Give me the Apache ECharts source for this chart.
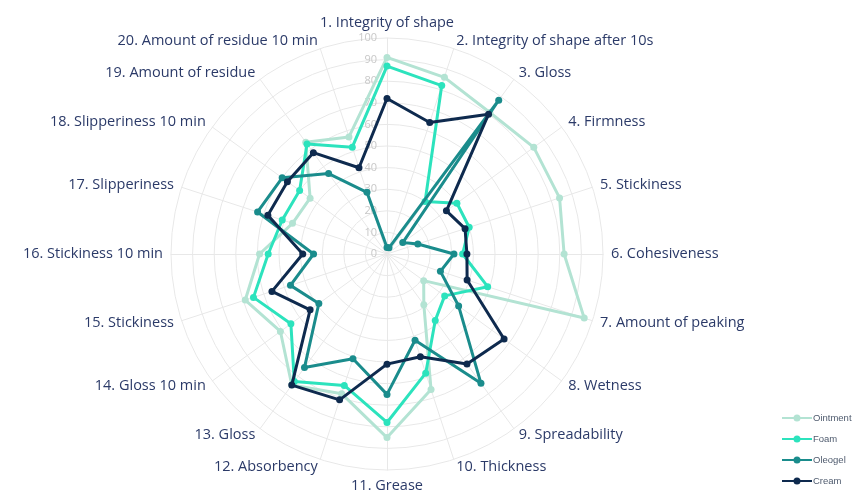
<!DOCTYPE html>
<html lang="en">
<head>
    <meta charset="UTF-8">
    <title>Texture profile radar</title>
    <script src="https://cdn.jsdelivr.net/npm/echarts@6/dist/echarts.min.js"></script>
    <style>
        html, body { margin: 0; padding: 0; background: #fff; }
        #chart_main { width: 856px; height: 504px; }
    </style>
</head>
<body>
<div id="chart_main"></div>
<script>
  // attributes (clockwise from top)
  var attributes = [
    '1. Integrity of shape', '2. Integrity of shape after 10s', '3. Gloss', '4. Firmness',
    '5. Stickiness', '6. Cohesiveness', '7. Amount of peaking', '8. Wetness',
    '9. Spreadability', '10. Thickness', '11. Grease', '12. Absorbency',
    '13. Gloss', '14. Gloss 10 min', '15. Stickiness', '16. Stickiness 10 min',
    '17. Slipperiness', '18. Slipperiness 10 min', '19. Amount of residue', '20. Amount of residue 10 min'
  ];
  var seriesNames = ['Ointment', 'Foam', 'Oleogel', 'Cream'];
  var ointment = [91, 86, 81, 84, 84, 82, 96, 21, 29, 66, 85, 68, 75, 61, 69, 59, 46, 44, 64, 57];
  var foam     = [87, 82, 30, 40, 40, 35, 49, 33, 38, 58, 78, 64, 73, 55, 65, 55, 51, 50, 63, 52];
  var oleogel  = [3, 3, 88, 9, 15, 31, 26, 41, 74, 42, 65, 51, 65, 39, 47, 34, 63, 60, 46, 30];
  var cream    = [72, 64, 80, 34, 38, 37, 39, 67, 63, 50, 51, 71, 75, 44, 56, 39, 58, 57, 58, 42];
  var colors = ['#b3e3d3', '#2ce3bd', '#1a8c8c', '#0e2a4e'];

  // echarts radar runs counter-clockwise, so keep item 1 on top and reverse the rest
  function clockwise(arr) {
    return [arr[0]].concat(arr.slice(1).reverse());
  }

  var myChart = echarts.init(document.getElementById('chart_main'));

  // only the first axis carries the 0..100 tick labels
  var indicators = clockwise(attributes).map(function(name, i) {
    var ind = {name: name, min: 0, max: 100};
    if (i === 0) {
      ind.axisLabel = {show: true, color: '#c8c8c8', fontSize: 11, margin: 10, align: 'right', fontFamily: 'Open Sans'};
    }
    return ind;
  });

  var allValues = [ointment, foam, oleogel, cream];
  var series = allValues.map(function(vals, i) {
    return {
      type: 'radar',
      name: seriesNames[i],
      symbol: 'circle',
      symbolSize: 7,
      lineStyle: {color: colors[i], width: 3},
      itemStyle: {color: colors[i]},
      z: 2 + i,
      data: [{name: seriesNames[i], value: clockwise(vals)}]
    };
  });

  var option = {
    animation: false,
    color: colors,
    legend: {
      orient: 'vertical',
      left: 777,
      top: 408,
      itemWidth: 30,
      itemHeight: 8,
      itemGap: 11,
      icon: 'path://M0,3 L30,3 L30,5 L0,5 Z M15,0.5 A3.5,3.5 0 1 1 15,7.5 A3.5,3.5 0 1 1 15,0.5 Z',
      textStyle: {color: '#4f5b6e', fontSize: 9.5, fontFamily: 'Liberation Sans', padding: [0, 0, 0, -4]},
      data: seriesNames
    },
    radar: {
      center: [387, 254],
      radius: 216,
      shape: 'circle',
      splitNumber: 10,
      startAngle: 90,
      indicator: indicators,
      axisName: {color: '#2b3a68', fontSize: 14.5, fontFamily: 'Open Sans'},
      nameGap: 8,
      splitArea: {show: false},
      splitLine: {lineStyle: {color: '#e8e8e8', width: 1}},
      axisLine: {lineStyle: {color: '#e8e8e8', width: 1}},
      axisLabel: {show: false}
    },
    series: series
  };
  myChart.setOption(option);
</script>
</body>
</html>
